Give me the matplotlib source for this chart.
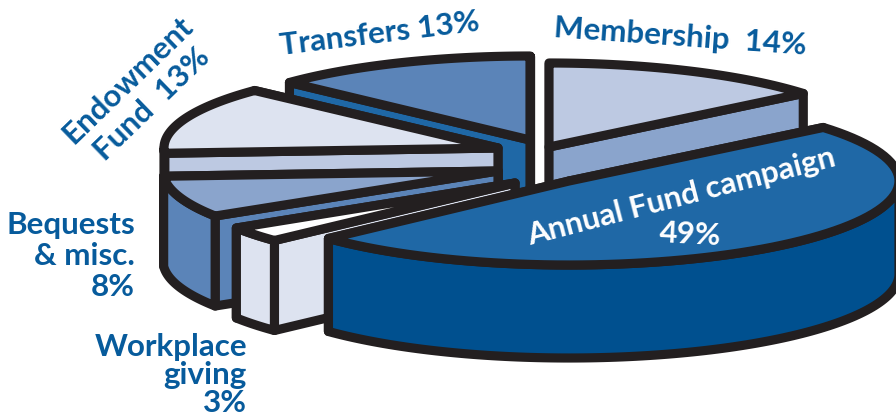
import numpy as np
import matplotlib
matplotlib.use("Agg")
import matplotlib.pyplot as plt
from matplotlib.patches import Polygon

# Revenue sources, in drawing order from the back of the pie to the front
sources = ["Membership", "Transfers", "Endowment Fund", "Bequests & misc.", "Workplace giving", "Annual Fund campaign"]
shares = [14, 13, 13, 8, 3, 49]

# Shares measured clockwise from twelve o'clock, in pie order
pie_order = ["Membership", "Annual Fund campaign", "Workplace giving", "Bequests & misc.", "Endowment Fund", "Transfers"]

top_colours = {"Membership": "#bdc9e2", "Transfers": "#5b84b8", "Endowment Fund": "#dde3f0",
               "Bequests & misc.": "#8aa4cc", "Workplace giving": "#ffffff", "Annual Fund campaign": "#1f68a6"}
side_colours = {"Membership": "#8aa4cc", "Transfers": "#1f68a6", "Endowment Fund": "#bdc9e2",
                "Bequests & misc.": "#5b84b8", "Workplace giving": "#dde3f0", "Annual Fund campaign": "#00508f"}
# Position of each exploded slice's tip
tips = {"Membership": (549, 147), "Transfers": (530, 140), "Endowment Fund": (498, 148),
        "Bequests & misc.": (498, 171), "Workplace giving": (515, 183), "Annual Fund campaign": (569, 181)}
# Horizontal radius and wall height, slightly larger where the pie is nearer the viewer
radii = {"Membership": 330, "Transfers": 330, "Endowment Fund": 334,
         "Bequests & misc.": 335, "Workplace giving": 330, "Annual Fund campaign": 330}
depths = {"Membership": 90, "Transfers": 90, "Endowment Fund": 90,
          "Bequests & misc.": 90, "Workplace giving": 90, "Annual Fund campaign": 93}

RY = 84
OUTLINE = "#231f20"
LABEL_BLUE = "#075b9c"
LW = 6.6
plt.rcParams["font.family"] = ["Lato", "DejaVu Sans"]

fig = plt.figure(figsize=(8.96, 4.19), dpi=100)
ax = fig.add_axes([0, 0, 1, 1])
ax.set_xlim(0, 896)
ax.set_ylim(419, 0)
ax.axis("off")

value_of = dict(zip(sources, shares))
total = sum(shares)
spans = {}
angle = 90.0
for name in pie_order:
    sweep = 360.0 * value_of[name] / total
    spans[name] = (angle, angle - sweep)
    angle -= sweep


def rim(tip, rx, a0, a1, n=80):
    t = np.radians(np.linspace(a0, a1, n))
    return np.column_stack([tip[0] + rx * np.cos(t), tip[1] - RY * np.sin(t)])


def shape(points, colour, z):
    ax.add_patch(Polygon(points, closed=True, facecolor=colour, edgecolor=OUTLINE,
                         linewidth=LW, joinstyle="round", zorder=z))


z = 1
for name in sources:
    tip = np.array(tips[name], float)
    rx = radii[name]
    a0, a1 = spans[name]
    drop = np.array([0, depths[name]])
    # Cut faces, the one further back first
    for a in sorted([a0, a1], key=lambda d: -np.sin(np.radians(d))):
        end = rim(tip, rx, a, a, 1)[0]
        shape([tip, end, end + drop, tip + drop], side_colours[name], z)
        z += 1
    # Outer wall: only the part of the rim facing the viewer
    t = np.linspace(a0, a1, 200)
    front = t[np.sin(np.radians(t)) <= 0]
    if len(front) > 1:
        edge = rim(tip, rx, front[0], front[-1], 120)
        shape(np.vstack([edge, edge[::-1] + drop]), side_colours[name], z)
        z += 1
    # Top surface
    shape(np.vstack([[tip], rim(tip, rx, a0, a1)]), top_colours[name], z)
    z += 1

pct = {n: f"{value_of[n]}%" for n in sources}
common = dict(fontweight="bold", color=LABEL_BLUE, zorder=100, rotation_mode="anchor", fontsize=22.6)
ax.text(680, 37, f"Membership  {pct['Membership']}", rotation=-4, ha="center", va="center", **common)
ax.text(380, 34, f"Transfers {pct['Transfers']}", rotation=7, ha="center", va="center", **common)
ax.text(140, 92, f"Endowment\nFund  {pct['Endowment Fund']}", rotation=44, ha="center", va="center",
        linespacing=1.28, **common)
ax.text(135, 293, f"Bequests\n& misc.\n{pct['Bequests & misc.']}", ha="right", va="baseline",
        linespacing=1.12, **common)
ax.text(247, 412, f"Workplace\ngiving\n{pct['Workplace giving']}", ha="right", va="baseline",
        linespacing=1.0, **common)
inside = dict(common, color="white")
ax.text(681, 197, "Annual Fund campaign", rotation=14.5, ha="center", va="center", **inside)
ax.text(690, 235, pct["Annual Fund campaign"], rotation=-3, ha="center", va="center", **inside)

fig.savefig("out.png", dpi=100)
